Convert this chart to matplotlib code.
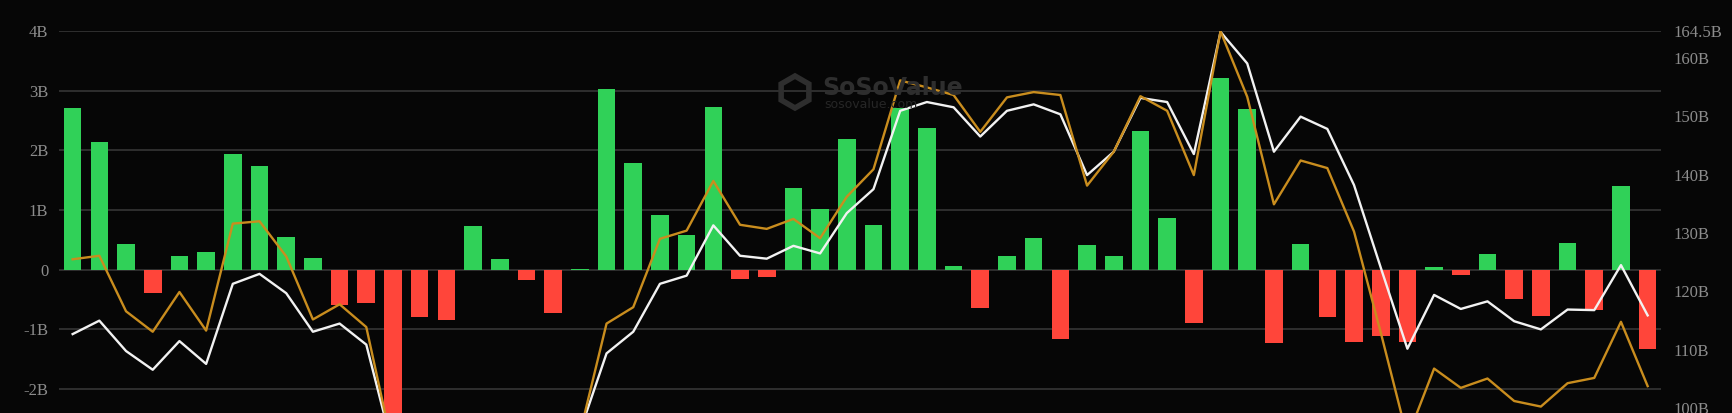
import numpy as np
import matplotlib.pyplot as plt
from matplotlib.patches import RegularPolygon

# daily net flow (B) - bars, left axis
net_flow = [2.71, 2.15, 0.43, -0.39, 0.23, 0.30, 1.94, 1.74, 0.55, 0.19,
            -0.59, -0.56, -3.00, -0.80, -0.84, 0.73, 0.18, -0.17, -0.72, 0.01,
            3.04, 1.79, 0.92, 0.59, 2.73, -0.16, -0.13, 1.37, 1.01, 2.20,
            0.75, 2.71, 2.37, 0.06, -0.64, 0.23, 0.53, -1.17, 0.42, 0.23,
            2.32, 0.87, -0.90, 3.22, 2.69, -1.23, 0.43, -0.79, -1.22, -1.11,
            -1.21, 0.05, -0.09, 0.27, -0.50, -0.78, 0.44, -0.68, 1.40, -1.33]

# total net assets (B) - white line, right axis
net_assets = [112.7, 115.0, 109.8, 106.6, 111.5, 107.6, 121.3, 123.0, 119.7, 113.1,
              114.5, 110.9, 93.0, 90.0, 88.0, 87.0, 89.0, 90.0, 92.0, 96.0,
              109.4, 113.1, 121.3, 122.7, 131.3, 126.1, 125.6, 127.8, 126.5, 133.4,
              137.5, 150.9, 152.4, 151.5, 146.5, 150.9, 152.0, 150.3, 139.9, 143.9,
              153.1, 152.4, 143.5, 164.4, 159.0, 143.9, 149.9, 147.8, 138.2, 124.1,
              110.2, 119.4, 117.0, 118.3, 114.9, 113.5, 116.9, 116.8, 124.5, 115.9]

# market value (B) - orange line, right axis
market_value = [125.5, 126.1, 116.6, 113.1, 119.9, 113.3, 131.6, 132.0, 126.0, 115.2,
                117.8, 113.9, 93.0, 88.0, 85.0, 84.0, 86.0, 87.0, 90.0, 95.7,
                114.5, 117.3, 129.0, 130.4, 138.9, 131.4, 130.7, 132.4, 129.1, 136.2,
                140.9, 156.1, 154.9, 153.6, 147.3, 153.2, 154.1, 153.6, 138.1, 143.9,
                153.4, 150.9, 139.9, 164.5, 153.3, 134.9, 142.4, 141.1, 130.25, 113.0,
                95.0, 106.8, 103.5, 105.1, 101.25, 100.3, 104.3, 105.2, 114.8, 103.8]

left_ticks = [-2, -1, 0, 1, 2, 3, 4]
left_labels = ['-2B', '-1B', '0', '1B', '2B', '3B', '4B']
right_ticks = [100, 110, 120, 130, 140, 150, 160, 164.5]
right_labels = ['100B', '110B', '120B', '130B', '140B', '150B', '160B', '164.5B']

bg = '#060606'
green = '#30d158'
red = '#ff453a'
tick_color = '#8c8c8c'

fig = plt.figure(figsize=(17.32, 4.13), dpi=100, facecolor=bg)
ax = fig.add_axes([59.3 / 1732, 0, (1661 - 59.3) / 1732, (413 - 31.3) / 413])
ax.set_facecolor(bg)

x = np.arange(len(net_flow))
colors = [green if v >= 0 else red for v in net_flow]
ax.bar(x, net_flow, width=0.66, color=colors, zorder=2)

ax.set_xlim(-0.5, len(net_flow) - 0.5)
ax.set_ylim(-2.405, 4)
ax.set_yticks(left_ticks)
ax.set_yticklabels(left_labels)
ax.set_xticks([])
ax.grid(axis='y', color='#3a3a3a', linewidth=1.1, zorder=0)
ax.set_axisbelow(True)
for s in ax.spines.values():
    s.set_visible(False)
ax.tick_params(axis='y', length=0, pad=8, colors=tick_color, labelsize=12)
for lab in ax.get_yticklabels():
    lab.set_family('Liberation Serif')

ax2 = ax.twinx()
ax2.plot(x, net_assets, color='#f2f2f2', linewidth=1.7, zorder=3)
ax2.plot(x, market_value, color='#c98d1e', linewidth=1.7, zorder=4)
ax2.set_ylim(99.2, 164.5)
ax2.set_yticks(right_ticks)
ax2.set_yticklabels(right_labels)
for s in ax2.spines.values():
    s.set_visible(False)
ax2.tick_params(axis='y', length=0, pad=9, colors=tick_color, labelsize=12)
for lab in ax2.get_yticklabels():
    lab.set_family('Liberation Serif')

# watermark
hexagon = RegularPolygon((795 / 1732, 1 - 92 / 413), numVertices=6, radius=0.0095,
                         orientation=0, transform=fig.transFigure,
                         facecolor='none', edgecolor='#2e2e2e', linewidth=4, zorder=1)
hexagon.set_transform(fig.dpi_scale_trans)
hexagon.xy = (795 / 100, 4.13 - 92 / 100)
hexagon.radius = 0.16
fig.patches.append(hexagon)
fig.text(822 / 1732, 1 - 88 / 413, 'SoSoValue', color='#2e2e2e', fontsize=17,
         fontweight='bold', ha='left', va='center', zorder=1)
fig.text(824 / 1732, 1 - 105 / 413, 'sosovalue.com', color='#262626', fontsize=9,
         ha='left', va='center', zorder=1)

fig.savefig('out.png', dpi=100, facecolor=bg)
